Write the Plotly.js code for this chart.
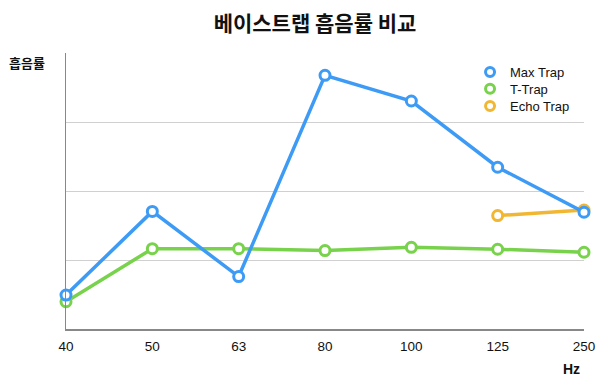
<!DOCTYPE html>
<html><head><meta charset="utf-8">
<script src="https://cdn.plot.ly/plotly-3.0.1.min.js"></script>
<style>html,body{margin:0;padding:0;background:#fff}#chart{width:600px;height:387px}</style>
</head><body><div id="chart"></div>
<script>
const categories = ['40','50','63','80','100','125','250'];
const maxTrap = [0.123, 0.426, 0.190, 0.919, 0.826, 0.586, 0.423];
const tTrap = [0.099, 0.291, 0.291, 0.284, 0.296, 0.289, 0.278];
const echoCats = ['125','250'];
const echoTrap = [0.411, 0.431];
const seriesNames = ['Max Trap','T-Trap','Echo Trap'];
const colors = ['#3d9bf6','#78d24b','#f1b733'];

const FONT = 'Liberation Sans, Arial, Noto Sans CJK KR, sans-serif';
const KFONT = 'Noto Sans CJK KR, Liberation Sans, sans-serif';

function lineTrace(x, y, c){
  return {x:x, y:y, type:'scatter', mode:'lines+markers', showlegend:false, cliponaxis:false,
    line:{color:c, width:3.5},
    marker:{symbol:'circle', size:10, color:'#ffffff', line:{color:c, width:3}}};
}
function legendTrace(name, c, lg){
  return {x:[null], y:[null], type:'scatter', mode:'markers', name:name, showlegend:true, legend:lg,
    marker:{symbol:'circle', size:9, color:'#ffffff', line:{color:c, width:3}}};
}
const data = [
  lineTrace(echoCats, echoTrap, colors[2]),
  lineTrace(categories, tTrap, colors[1]),
  lineTrace(categories, maxTrap, colors[0]),
  legendTrace(seriesNames[0], colors[0], 'legend'),
  legendTrace(seriesNames[1], colors[1], 'legend2'),
  legendTrace(seriesNames[2], colors[2], 'legend3')
];
function lg(yv){
  return {x:0.78, y:yv, xanchor:'left', yanchor:'middle', bgcolor:'rgba(0,0,0,0)',
    font:{size:13, color:'#111'}, itemwidth:30};
}
const layout = {
  width:600, height:387,
  margin:{l:66, r:16, t:53, b:58},
  paper_bgcolor:'#fff', plot_bgcolor:'#fff',
  font:{family:FONT, size:13, color:'#111'},
  title:{text:'<b>베이스트랩 흡음률 비교</b>', font:{family:KFONT, size:21, color:'#111'},
    x:0.525, xanchor:'center', y:0.94, yanchor:'middle'},
  xaxis:{type:'category', categoryorder:'array', categoryarray:categories,
    range:[0,6], showgrid:false, zeroline:false, showline:true, linecolor:'#888', linewidth:1.5,
    ticks:'', tickfont:{size:13.5, color:'#111'}, ticklabelstandoff:4, fixedrange:true},
  yaxis:{range:[0,1], dtick:0.25, showticklabels:false, showgrid:true, gridcolor:'#d0d0d0', gridwidth:1,
    zeroline:false, showline:true, linecolor:'#888', linewidth:1.5, ticks:'', fixedrange:true},
  legend:lg(0.931), legend2:lg(0.870), legend3:lg(0.808),
  annotations:[
    {text:'<b>흡음률</b>', xref:'paper', yref:'paper', x:-0.114, y:1.0, xanchor:'left', yanchor:'top',
      yshift:2, showarrow:false, font:{family:KFONT, size:13, color:'#111'}},
    {text:'<b>Hz</b>', xref:'paper', yref:'paper', x:1.0, y:0, xanchor:'center', yanchor:'middle',
      xshift:-13, yshift:-40, showarrow:false, font:{family:FONT, size:14, color:'#111'}}
  ],
  showlegend:true
};
Plotly.newPlot('chart', data, layout, {displayModeBar:false, staticPlot:true});
</script></body></html>
